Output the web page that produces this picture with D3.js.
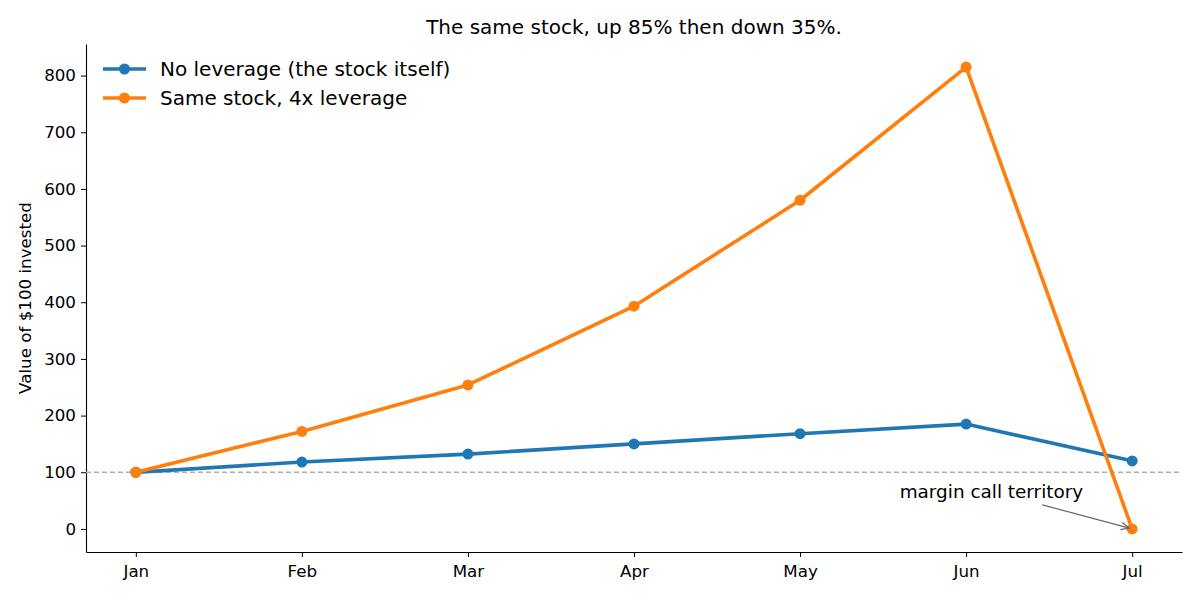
<!DOCTYPE html>
<html>
<head>
<meta charset="utf-8">
<script src="https://cdn.jsdelivr.net/npm/d3@7"></script>
<style>
  body { margin: 0; background: #fff; }
  svg { font-family: "DejaVu Sans", sans-serif; }
</style>
</head>
<body>
<div id="chart"></div>
<script>
const months = ['Jan', 'Feb', 'Mar', 'Apr', 'May', 'Jun', 'Jul'];
const noLeverage = [100, 118, 132, 150, 168, 185, 120];
const leveraged = [100, 172, 254, 393, 580, 815, 0];
const yTicks = [0, 100, 200, 300, 400, 500, 600, 700, 800];
const seriesNames = ['No leverage (the stock itself)', 'Same stock, 4x leverage'];
const seriesColors = ['#1f77b4', '#ff7f0e'];

const width = 1200;
const height = 600;
const margin = {top: 44, right: 18, bottom: 48, left: 86};
const chartWidth = width - margin.left - margin.right;
const chartHeight = height - margin.top - margin.bottom;
const markerRadius = 5.5;

const svg = d3.select('#chart')
  .append('svg')
    .attr('width', width)
    .attr('height', height);

const g = svg.append('g')
    .attr('transform', `translate(${margin.left},${margin.top})`);

// matplotlib-like 5% margins
const xScale = d3.scaleLinear()
    .domain([-0.3, months.length - 1 + 0.3])
    .range([0, chartWidth]);

const yMax = d3.max(leveraged.concat(noLeverage));
const yMin = 0;
const pad = (yMax - yMin) * 0.05;
const yScale = d3.scaleLinear()
    .domain([yMin - pad, yMax + pad])
    .range([chartHeight, 0]);

// axes
const xAxis = d3.axisBottom(xScale)
    .tickValues(d3.range(months.length))
    .tickFormat(i => months[i])
    .tickSizeInner(5)
    .tickSizeOuter(0)
    .tickPadding(5);

const yAxis = d3.axisLeft(yScale)
    .tickValues(yTicks)
    .tickSizeInner(5)
    .tickSizeOuter(0)
    .tickPadding(5);

const xg = g.append('g')
    .attr('transform', `translate(0,${chartHeight})`)
    .call(xAxis);
const yg = g.append('g').call(yAxis);

[xg, yg].forEach(ax => {
  ax.selectAll('text')
      .attr('fill', '#000')
      .style('font-size', '16.7px')
      .style('font-family', '"DejaVu Sans", sans-serif');
  ax.selectAll('line').attr('stroke', '#000').attr('stroke-width', 1);
  ax.select('.domain').attr('stroke', '#000').attr('stroke-width', 1.1);
});
xg.selectAll('text').attr('dy', '0.9em');

// reference line at 100
g.append('line')
    .attr('x1', 0)
    .attr('x2', chartWidth)
    .attr('y1', yScale(100))
    .attr('y2', yScale(100))
    .attr('stroke', '#b0b0b0')
    .attr('stroke-width', 1.4)
    .attr('stroke-dasharray', '5,3');

// series
const line = d3.line()
    .x((d, i) => xScale(i))
    .y(d => yScale(d));

[noLeverage, leveraged].forEach((series, k) => {
  g.append('path')
      .datum(series)
      .attr('fill', 'none')
      .attr('stroke', seriesColors[k])
      .attr('stroke-width', 3.6)
      .attr('stroke-linejoin', 'round')
      .attr('stroke-linecap', 'square')
      .attr('d', line);

  g.selectAll(null)
      .data(series)
      .enter()
      .append('circle')
      .attr('cx', (d, i) => xScale(i))
      .attr('cy', d => yScale(d))
      .attr('r', markerRadius)
      .attr('fill', seriesColors[k]);
});

// annotation
const target = [xScale(months.length - 1), yScale(0)];
const note = g.append('text')
    .attr('x', xScale(4.6))
    .attr('y', yScale(55))
    .style('font-size', '18.4px')
    .attr('fill', '#000')
    .text('margin call territory');

const bb = note.node().getBBox();
const cx = bb.x + bb.width / 2;
const cy = bb.y + bb.height / 2;
const dx = target[0] - cx;
const dy = target[1] - cy;
const len = Math.hypot(dx, dy);
const ux = dx / len;
const uy = dy / len;
// leave text bbox through its bottom edge
const tExit = (bb.y + bb.height - cy) / uy;
const start = [cx + ux * (tExit + 12), cy + uy * (tExit + 12)];
const end = [target[0] - ux * 3, target[1] - uy * 3];

g.append('line')
    .attr('x1', start[0]).attr('y1', start[1])
    .attr('x2', end[0]).attr('y2', end[1])
    .attr('stroke', '#666')
    .attr('stroke-width', 1.2);

const ang = Math.atan2(uy, ux);
const head = 9;
const spread = 0.42;
g.append('path')
    .attr('d', `M${end[0] - head * Math.cos(ang - spread)},${end[1] - head * Math.sin(ang - spread)}`
      + `L${end[0]},${end[1]}`
      + `L${end[0] - head * Math.cos(ang + spread)},${end[1] - head * Math.sin(ang + spread)}`)
    .attr('fill', 'none')
    .attr('stroke', '#666')
    .attr('stroke-width', 1.2);

// legend
const legend = g.append('g')
    .attr('transform', 'translate(17,25)');

seriesNames.forEach((name, k) => {
  const row = legend.append('g')
      .attr('transform', `translate(0,${k * 29})`);
  row.append('line')
      .attr('x1', 0).attr('x2', 43)
      .attr('y1', 0).attr('y2', 0)
      .attr('stroke', seriesColors[k])
      .attr('stroke-width', 3.6);
  row.append('circle')
      .attr('cx', 21.5)
      .attr('cy', 0)
      .attr('r', markerRadius)
      .attr('fill', seriesColors[k]);
  row.append('text')
      .attr('x', 57)
      .attr('y', 0)
      .attr('dy', '0.35em')
      .style('font-size', '20px')
      .attr('fill', '#000')
      .text(name);
});

// title
svg.append('text')
    .attr('x', margin.left + chartWidth / 2)
    .attr('y', 34)
    .attr('text-anchor', 'middle')
    .style('font-size', '20px')
    .attr('fill', '#000')
    .text('The same stock, up 85% then down 35%.');

// y label
svg.append('text')
    .attr('transform', `translate(31,${margin.top + chartHeight / 2}) rotate(-90)`)
    .attr('text-anchor', 'middle')
    .style('font-size', '16.7px')
    .attr('fill', '#000')
    .text('Value of $100 invested');
</script>
</body>
</html>
